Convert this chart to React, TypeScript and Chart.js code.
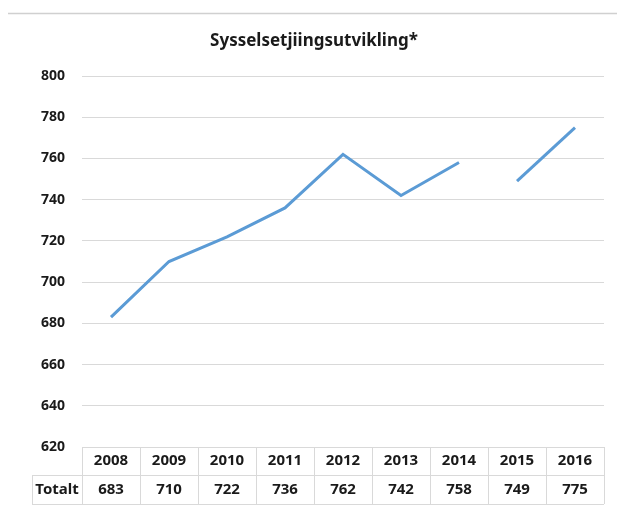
import React, { useEffect, useRef } from "react";
import { Chart, registerables } from "chart.js";

Chart.register(...registerables);

const title = "Sysselsetjiingsutvikling*";
const years = ["2008", "2009", "2010", "2011", "2012", "2013", "2014", "2015", "2016"];
const totals = [683, 710, 722, 736, 762, 742, 758, 749, 775];
const rowLabel = "Totalt";
const gapAfterIndex = 6; // no line drawn between 2014 and 2015
const yMin = 620;
const yMax = 800;
const yStep = 20;

const LINE = "#5B9BD5";
const GRID = "#d9d9d9";
const TEXT = "#1a1a1a";
const FONT = "'Noto Sans', sans-serif";

const tablePlugin = {
  id: "tablePlugin",
  afterDraw(chart: any) {
    const ctx = chart.ctx;
    const x = chart.scales.x;
    const area = chart.chartArea;
    const top = area.bottom;
    const mid = top + 28;
    const bot = mid + 29;
    const n = years.length;
    const half = (x.getPixelForValue(1) - x.getPixelForValue(0)) / 2;
    const labelLeft = 32;
    ctx.save();
    ctx.strokeStyle = GRID;
    ctx.lineWidth = 1;
    ctx.beginPath();
    ctx.moveTo(area.left, top + 0.5);
    ctx.lineTo(area.right, top + 0.5);
    ctx.moveTo(labelLeft, mid + 0.5);
    ctx.lineTo(area.right, mid + 0.5);
    ctx.moveTo(labelLeft, bot + 0.5);
    ctx.lineTo(area.right, bot + 0.5);
    ctx.moveTo(labelLeft + 0.5, mid);
    ctx.lineTo(labelLeft + 0.5, bot);
    for (let i = 0; i <= n; i++) {
      const px = Math.round(x.getPixelForValue(i) - half) + 0.5;
      ctx.moveTo(px, top);
      ctx.lineTo(px, bot);
    }
    ctx.stroke();
    ctx.fillStyle = TEXT;
    ctx.font = `bold 15px ${FONT}`;
    ctx.textAlign = "center";
    ctx.textBaseline = "middle";
    for (let i = 0; i < n; i++) {
      const cx = x.getPixelForValue(i);
      ctx.fillText(years[i], cx, top + 14);
      ctx.fillText(String(totals[i]), cx, mid + 14.5);
    }
    ctx.fillText(rowLabel, (labelLeft + area.left) / 2, mid + 14.5);
    ctx.strokeStyle = "#d0d0d0";
    ctx.lineWidth = 1.5;
    ctx.beginPath();
    ctx.moveTo(8, 13.5);
    ctx.lineTo(617, 13.5);
    ctx.stroke();
    ctx.font = `bold 17px ${FONT}`;
    ctx.fillText(title, 314, 41);
    ctx.restore();
  },
};

export default function App() {
  const ref = useRef<HTMLCanvasElement>(null);
  useEffect(() => {
    if (!ref.current) return;
    const chart = new Chart(ref.current, {
      type: "line",
      data: {
        labels: years,
        datasets: [
          {
            data: totals,
            borderColor: LINE,
            borderWidth: 3,
            pointRadius: 0,
            tension: 0,
            segment: {
              borderColor: (c: any) => (c.p0DataIndex === gapAfterIndex ? "transparent" : LINE),
            },
          },
        ],
      },
      options: {
        responsive: false,
        animation: false,
        layout: { padding: { top: 76, right: 13, left: 0, bottom: 0 } },
        plugins: { legend: { display: false }, tooltip: { enabled: false }, title: { display: false } },
        scales: {
          x: {
            offset: true,
            grid: { display: false },
            border: { display: false },
            ticks: { display: false },
            afterFit: (s: any) => {
              s.height = 58;
            },
          },
          y: {
            min: yMin,
            max: yMax,
            grid: { color: GRID, drawTicks: false, lineWidth: (c: any) => (c.tick && c.tick.value === yMin ? 0 : 1) },
            border: { display: false },
            ticks: {
              stepSize: yStep,
              padding: 17,
              color: TEXT,
              font: { family: FONT, size: 14, weight: "bold" },
            },
            afterFit: (s: any) => {
              s.width = 82;
            },
          },
        },
      },
      plugins: [tablePlugin],
    });
    return () => chart.destroy();
  }, []);
  return (
    <div style={{ position: "absolute", left: 0, top: 0, width: 617, height: 505, background: "#fff" }}>
      <canvas ref={ref} width={617} height={505} />
    </div>
  );
}
